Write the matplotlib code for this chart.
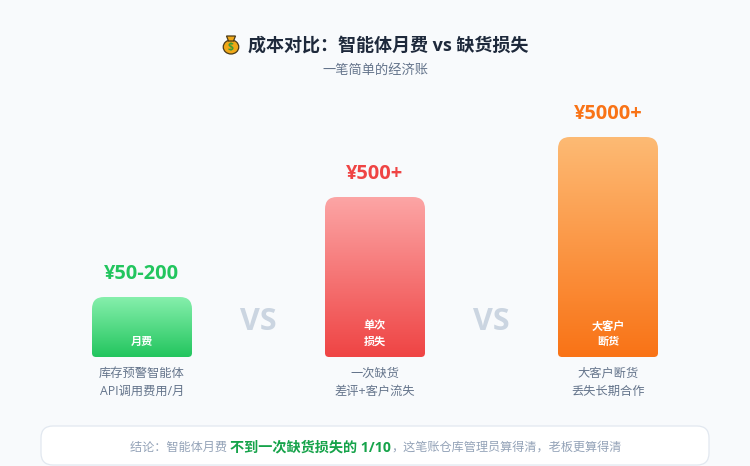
import numpy as np
import matplotlib
matplotlib.use("Agg")
import matplotlib.pyplot as plt
from matplotlib.colors import LinearSegmentedColormap
from matplotlib.patches import Ellipse, FancyBboxPatch, PathPatch, Polygon
from matplotlib.path import Path

# Latin glyphs from Open Sans, Chinese falls through to the CJK family
plt.rcParams["font.family"] = ["Open Sans", "Noto Sans CJK SC", "DejaVu Sans"]

# chart data, bar heights (they are not to scale with the money)
bar_centers = [142, 375, 608]
bar_heights = [60, 160, 220]
bar_width = 100
value_labels = ["¥50-200", "¥500+", "¥5000+"]
inner_labels = ["月费", "单次\n损失", "大客户\n断货"]
desc_labels = ["库存预警智能体\nAPI调用费用/月", "一次缺货\n差评+客户流失", "大客户断货\n丢失长期合作"]
top_colors = ["#86efac", "#fca5a5", "#fdba74"]
bottom_colors = ["#22c55e", "#ef4444", "#f97316"]
value_colors = ["#22c55e", "#ef4444", "#f97316"]
vs_positions = [258.5, 491.5]

BG = "#f8fafc"

fig = plt.figure(figsize=(7.5, 4.66), dpi=100, facecolor=BG)
ax = fig.add_axes([0, 0, 1, 1])
# one data unit = one pixel, y=0 is the bar baseline
ax.set_xlim(0, 750)
ax.set_ylim(-109, 357)
ax.axis("off")


def px(y):
    # pixel row from the top -> data y
    return 357 - y


def bar_path(x0, x1, y0, y1, rt=12, rb=4):
    verts = [
        (x0 + rb, y0), (x1 - rb, y0), (x1, y0), (x1, y0 + rb),
        (x1, y1 - rt), (x1, y1), (x1 - rt, y1),
        (x0 + rt, y1), (x0, y1), (x0, y1 - rt),
        (x0, y0 + rb), (x0, y0), (x0 + rb, y0), (x0 + rb, y0),
    ]
    codes = [
        Path.MOVETO, Path.LINETO, Path.CURVE3, Path.CURVE3,
        Path.LINETO, Path.CURVE3, Path.CURVE3,
        Path.LINETO, Path.CURVE3, Path.CURVE3,
        Path.LINETO, Path.CURVE3, Path.CURVE3, Path.CLOSEPOLY,
    ]
    return Path(verts, codes)


grad = np.linspace(0, 1, 256).reshape(-1, 1)

for i, c in enumerate(bar_centers):
    h = bar_heights[i]
    x0, x1 = c - bar_width / 2, c + bar_width / 2
    cmap = LinearSegmentedColormap.from_list("g", [top_colors[i], bottom_colors[i]])
    im = ax.imshow(grad, extent=(x0, x1, 0, h), origin="upper", cmap=cmap, aspect="auto", zorder=2)
    patch = PathPatch(bar_path(x0, x1, 0, h), fc="none", ec="none", transform=ax.transData)
    ax.add_patch(patch)
    im.set_clip_path(patch)

    ax.text(c, h + 23, value_labels[i], ha="center", va="center", fontsize=14.4,
            fontweight="bold", color=value_colors[i])

    # inner label sits on the bottom of the bar
    lines = inner_labels[i].split("\n")
    for j, line in enumerate(reversed(lines)):
        ax.text(c, 15 + j * 15, line, ha="center", va="center", fontsize=8,
                fontweight="bold", color="white", zorder=3)

    d1, d2 = desc_labels[i].split("\n")
    ax.text(c, px(373), d1, ha="center", va="center", fontsize=8.8, color="#64748b")
    ax.text(c, px(391), d2, ha="center", va="center", fontsize=8.8, color="#64748b")

for x in vs_positions:
    ax.text(x, px(322), "VS", ha="center", va="center", fontsize=22,
            fontweight="bold", color="#cbd5e1")

# the title
ax.text(388.5, px(45.5), "成本对比：智能体月费 vs 缺货损失", ha="center", va="center",
        fontsize=13, fontweight="bold", color="#1e293b")
ax.text(375, px(70), "一笔简单的经济账", ha="center", va="center", fontsize=9.5, color="#64748b")

# money bag emoji, no colour emoji font here so drawn by hand
ax.add_patch(Ellipse((231, px(47)), 15.5, 14, fc="#f0a818", ec="#4a3a18", lw=0.9, zorder=3))
ax.add_patch(Polygon([(226.5, px(36)), (235.5, px(36)), (233.5, px(41)), (228.5, px(41))],
                     closed=True, fc="#f0a818", ec="#4a3a18", lw=0.9, zorder=3))
ax.text(231, px(47.5), "$", ha="center", va="center", fontsize=7.5, fontweight="bold",
        color="#3f9c35", zorder=4)

# conclusion box
ax.add_patch(FancyBboxPatch((41, px(465)), 668, 39, boxstyle="round,pad=0,rounding_size=12",
                            fc="white", ec="#e2e8f0", lw=0.9, zorder=1))

parts = [
    ("结论：智能体月费 ", "#94a3b8", "normal", 8.75),
    ("不到一次缺货损失的 1/10", "#16a34a", "bold", 10.2),
    ("，这笔账仓库管理员算得清，老板更算得清", "#94a3b8", "normal", 8.75),
]
fig.canvas.draw()
rend = fig.canvas.get_renderer()
x = 130
for s, col, weight, size in parts:
    t = ax.text(x, px(447), s, ha="left", va="center", fontsize=size, fontweight=weight, color=col, zorder=3)
    x += t.get_window_extent(rend).width

fig.savefig("out.png", dpi=100, facecolor=BG)
